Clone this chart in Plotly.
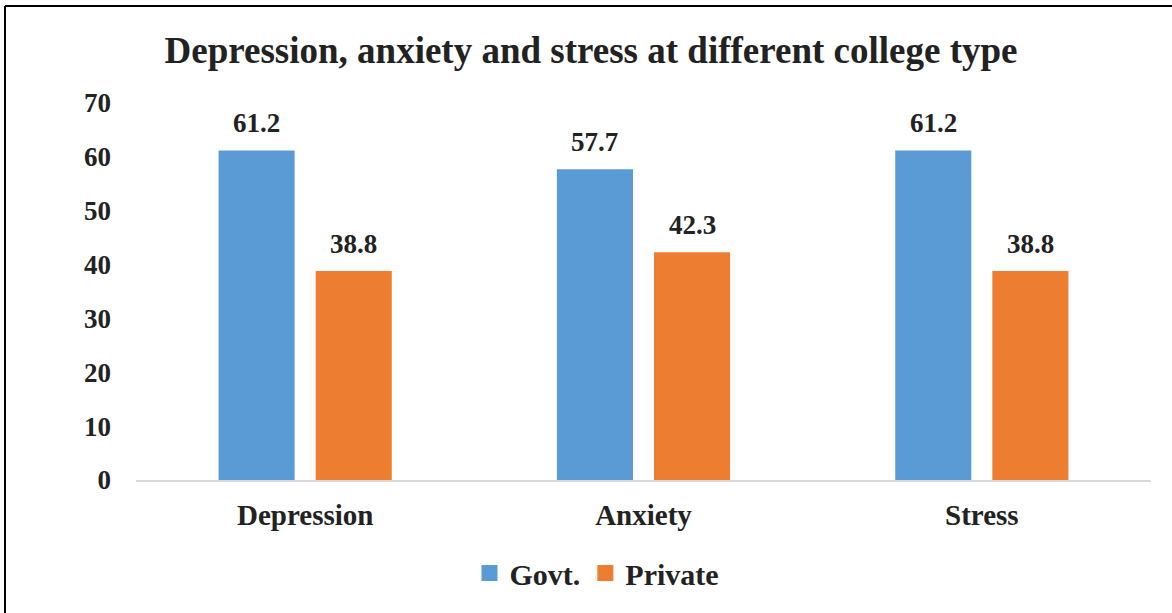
import plotly.graph_objects as go

categories = ["Depression", "Anxiety", "Stress"]
govt = [61.2, 57.7, 61.2]
private = [38.8, 42.3, 38.8]
series_names = ["Govt.", "Private"]
y_ticks = [0, 10, 20, 30, 40, 50, 60, 70]

BLUE = "#5B9BD5"
ORANGE = "#ED7D31"
TXT = "#222222"
FONT = "Liberation Serif"

L, R, T, B = 136, 21, 103, 133
W, H = 1172, 613
pw = W - L - R
ph = H - T - B

BARGAP = 0.426
GROUPGAP = 0.2165

fig = go.Figure()
for name, vals, col in [(series_names[0], govt, BLUE), (series_names[1], private, ORANGE)]:
    fig.add_trace(go.Bar(x=categories, y=vals, name=name, marker=dict(color=col, line=dict(width=0)),
                         showlegend=False, hoverinfo="x+y"))
    fig.add_trace(go.Scatter(x=[None], y=[None], mode="markers", name=name,
                             marker=dict(symbol="square", size=16, color=col)))

# data labels
slot = (1 - BARGAP) / 2
for si, vals in enumerate([govt, private]):
    off = (si - 0.5) * slot
    for ci, v in enumerate(vals):
        fig.add_annotation(x=ci + off, y=v, xref="x", yref="y", text=f"<b>{v}</b>",
                           showarrow=False, yanchor="bottom", yshift=10,
                           font=dict(family=FONT, size=27, color=TXT))

# border (top and left)
def px_x(p):
    return (p - L) / pw
def px_y(p):
    return (H - B - p) / ph
fig.add_shape(type="line", xref="paper", yref="paper", x0=px_x(5), x1=px_x(1180),
              y0=px_y(6), y1=px_y(6), line=dict(color="black", width=2))
fig.add_shape(type="line", xref="paper", yref="paper", x0=px_x(5), x1=px_x(5),
              y0=px_y(6), y1=px_y(620), line=dict(color="black", width=2))

fig.update_layout(
    width=W, height=H,
    margin=dict(l=L, r=R, t=T, b=B),
    paper_bgcolor="white", plot_bgcolor="white",
    barmode="group", bargap=BARGAP, bargroupgap=GROUPGAP,
    title=dict(text="<b>Depression, anxiety and stress at different college type</b>",
               x=px_x(591), xref="paper", xanchor="center",
               y=1 - 50 / H, yref="container", yanchor="middle",
               font=dict(family=FONT, size=37, color=TXT)),
    font=dict(family=FONT, color=TXT),
    legend=dict(orientation="h", x=px_x(597), xanchor="center", xref="paper",
                y=1 - 573 / H, yref="container", yanchor="middle",
                font=dict(family=FONT, size=30, color=TXT, weight="bold"),
                itemsizing="trace", bgcolor="rgba(0,0,0,0)"),
    xaxis=dict(showline=True, linecolor="#D9D9D9", linewidth=2,
               showgrid=False, zeroline=False,
               ticks="outside", ticklen=8, tickcolor="rgba(0,0,0,0)",
               tickfont=dict(family=FONT, size=29, color=TXT, weight="bold")),
    yaxis=dict(range=[0, 70], tickvals=y_ticks, showgrid=False, zeroline=False,
               showline=False, ticklabelstandoff=24,
               tickfont=dict(family=FONT, size=27, color=TXT, weight="bold")),
)

fig.write_html("out.html")
